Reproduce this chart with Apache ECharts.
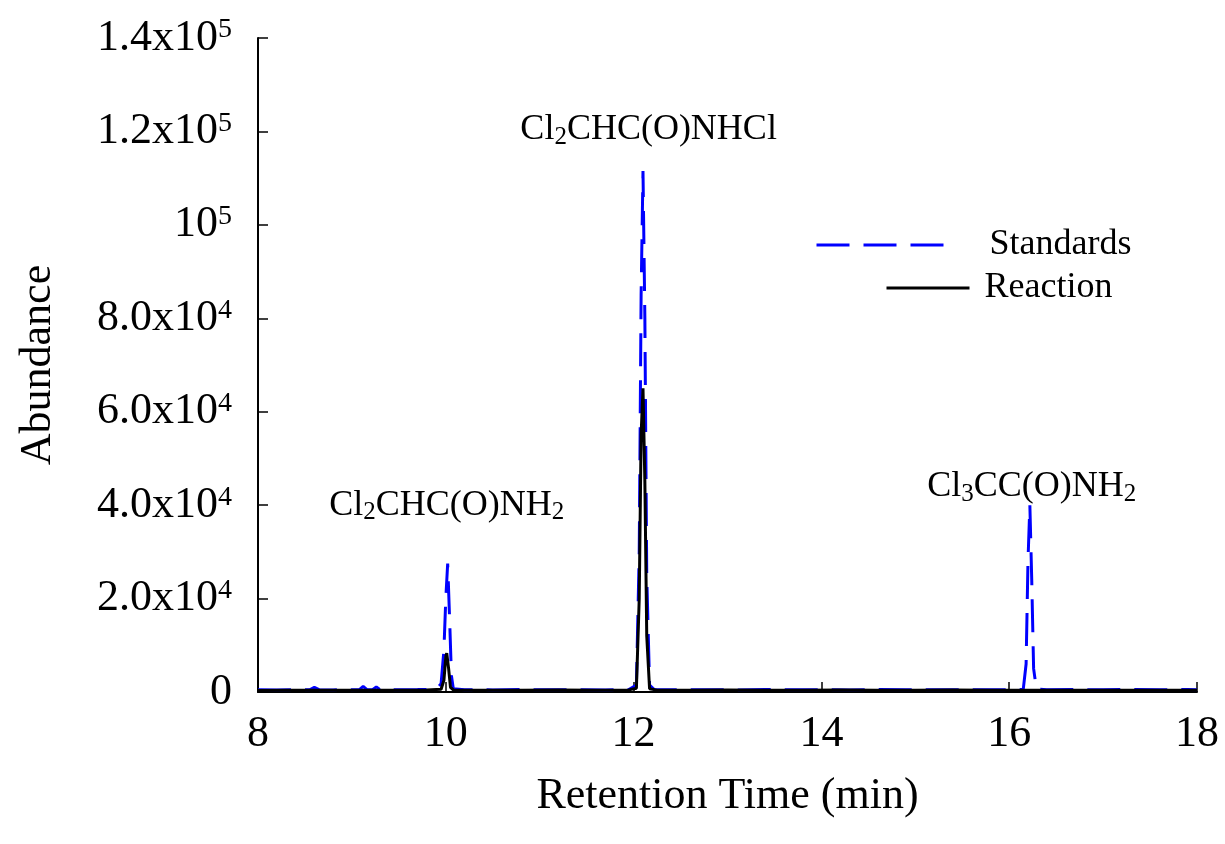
<!DOCTYPE html>
<html>
<head>
<meta charset="utf-8">
<title>Chromatogram</title>
<script src="https://cdn.jsdelivr.net/npm/echarts@6/dist/echarts.min.js"></script>
<style>
  html, body { margin: 0; padding: 0; background: #ffffff; }
  #chart { width: 1225px; height: 844px; }
</style>
</head>
<body>
<div id="chart"></div>
<script>
// Retention times (min) and abundances for the standards run
const stdTime = [8.00, 8.20, 8.40, 8.55, 8.60, 8.65, 8.80, 9.00, 9.08, 9.12, 9.16, 9.22, 9.26, 9.30,
  9.50, 9.70, 9.90, 9.95, 9.98, 10.00, 10.02, 10.04, 10.06, 10.08, 10.20, 10.50, 10.80, 11.10,
  11.40, 11.70, 11.95, 12.03, 12.06, 12.08, 12.10, 12.12, 12.14, 12.17, 12.22, 12.50, 12.80,
  13.10, 13.40, 13.70, 14.00, 14.30, 14.60, 14.90, 15.20, 15.50, 15.80, 16.05, 16.15, 16.18,
  16.20, 16.22, 16.24, 16.26, 16.29, 16.40, 16.70, 17.00, 17.30, 17.60, 17.90, 18.00];
const stdAbund = [500, 450, 500, 480, 1000, 500, 450, 500, 520, 1200, 520, 500, 1100, 500,
  480, 520, 600, 1800, 9000, 20000, 27500, 16000, 3500, 700, 500, 450, 520, 480,
  500, 450, 520, 1500, 30000, 85000, 111500, 80000, 25000, 1500, 520, 480, 500,
  450, 520, 480, 500, 450, 520, 480, 500, 450, 480, 500, 600, 6000,
  28000, 40000, 24000, 5000, 600, 500, 520, 480, 550, 500, 520, 500];

// Retention times (min) and abundances for the reaction sample
const rxnTime = [8.00, 8.30, 8.60, 8.90, 9.20, 9.50, 9.80, 9.95, 9.98, 10.00, 10.01, 10.03, 10.05,
  10.08, 10.40, 10.80, 11.20, 11.60, 11.95, 12.03, 12.06, 12.08, 12.10, 12.12, 12.14, 12.17,
  12.25, 12.60, 13.00, 13.40, 13.80, 14.20, 14.60, 15.00, 15.40, 15.80, 16.20, 16.60, 17.00,
  17.40, 17.80, 18.00];
const rxnAbund = [300, 350, 400, 350, 400, 380, 450, 600, 2500, 7500, 8300, 5000, 1000,
  450, 400, 380, 420, 400, 450, 800, 20000, 55000, 65000, 45000, 12000, 700,
  400, 380, 420, 400, 380, 420, 400, 380, 420, 400, 380, 400, 350,
  380, 360, 350];

// Peak annotations: position (time, abundance) and rich-text label
const peakLabelTime = [10.01, 12.16, 16.24];
const peakLabelAbund = [40000, 120300, 43900];
const peakLabelText = [
  'Cl{sub|2}CHC(O)NH{sub|2}',
  'Cl{sub|2}CHC(O)NHCl',
  'Cl{sub|3}CC(O)NH{sub|2}'
];

// Y-axis tick labels, one per 2x10^4 step
const yTickLabels = ['0', '2.0x10{sup|4}', '4.0x10{sup|4}', '6.0x10{sup|4}', '8.0x10{sup|4}',
  '10{sup|5}', '1.2x10{sup|5}', '1.4x10{sup|5}'];

const seriesNames = ['Standards', 'Reaction'];

const FONT = '"Liberation Serif", "Times New Roman", serif';

const zip = (a, b) => a.map((v, i) => [v, b[i]]);

const chart = echarts.init(document.getElementById('chart'), null, { renderer: 'canvas' });

chart.setOption({
  backgroundColor: '#ffffff',
  animation: false,
  textStyle: { fontFamily: FONT, color: '#000' },
  grid: { left: 258, right: 28, top: 38, bottom: 152, containLabel: false },
  legend: [
    {
      data: [seriesNames[0]],
      left: 810, top: 222,
      itemWidth: 130, itemHeight: 28,
      selectedMode: false,
      itemStyle: { opacity: 0 },
      lineStyle: { width: 3 },
      textStyle: { fontFamily: FONT, fontSize: 36, color: '#000', padding: [0, 0, 0, 38] }
    },
    {
      data: [seriesNames[1]],
      left: 880, top: 265,
      itemWidth: 83, itemHeight: 28,
      selectedMode: false,
      itemStyle: { opacity: 0 },
      lineStyle: { width: 3 },
      textStyle: { fontFamily: FONT, fontSize: 36, color: '#000', padding: [0, 0, 0, 10] }
    }
  ],
  xAxis: {
    type: 'value',
    min: 8, max: 18, interval: 2,
    name: 'Retention Time (min)',
    nameLocation: 'middle',
    nameGap: 82,
    nameTextStyle: { fontFamily: FONT, fontSize: 44, color: '#000' },
    axisLine: { show: true, onZero: false, lineStyle: { color: '#000', width: 2 } },
    axisTick: { show: true, inside: true, length: 10, lineStyle: { color: '#000', width: 1.5 } },
    axisLabel: { fontFamily: FONT, fontSize: 44, color: '#000', margin: 20 },
    splitLine: { show: false }
  },
  yAxis: {
    type: 'value',
    min: 0, max: 140000, interval: 20000,
    name: 'Abundance',
    nameLocation: 'middle',
    nameGap: 198,
    nameTextStyle: { fontFamily: FONT, fontSize: 44, color: '#000' },
    axisLine: { show: true, lineStyle: { color: '#000', width: 2 } },
    axisTick: { show: true, inside: true, length: 10, lineStyle: { color: '#000', width: 1.5 } },
    axisLabel: {
      margin: 26,
      formatter: (v) => yTickLabels[Math.round(v / 20000)],
      fontFamily: FONT, fontSize: 44, color: '#000', lineHeight: 44,
      rich: {
        sup: { fontFamily: FONT, fontSize: 28, lineHeight: 24, verticalAlign: 'top', color: '#000' }
      }
    },
    splitLine: { show: false }
  },
  series: [
    {
      name: seriesNames[0],
      type: 'line',
      data: zip(stdTime, stdAbund),
      symbol: 'none',
      lineStyle: { color: '#0000ff', width: 3, type: [33, 14] },
      itemStyle: { color: '#0000ff' },
      z: 2
    },
    {
      name: seriesNames[1],
      type: 'line',
      data: zip(rxnTime, rxnAbund),
      symbol: 'none',
      lineStyle: { color: '#000000', width: 3 },
      itemStyle: { color: '#000000' },
      z: 3
    },
    {
      name: 'peakLabels',
      type: 'scatter',
      silent: true,
      symbolSize: 0,
      itemStyle: { opacity: 1, color: '#000' },
      data: peakLabelTime.map((t, i) => ({ value: [t, peakLabelAbund[i]], text: peakLabelText[i] })),
      label: {
        show: true,
        position: 'inside',
        formatter: (p) => p.data.text,
        fontFamily: FONT, fontSize: 36, color: '#000', lineHeight: 40,
        textBorderWidth: 0,
        rich: {
          sub: { fontFamily: FONT, fontSize: 25, lineHeight: 4, verticalAlign: 'bottom', color: '#000' }
        }
      },
      z: 4
    }
  ]
});
</script>
</body>
</html>
